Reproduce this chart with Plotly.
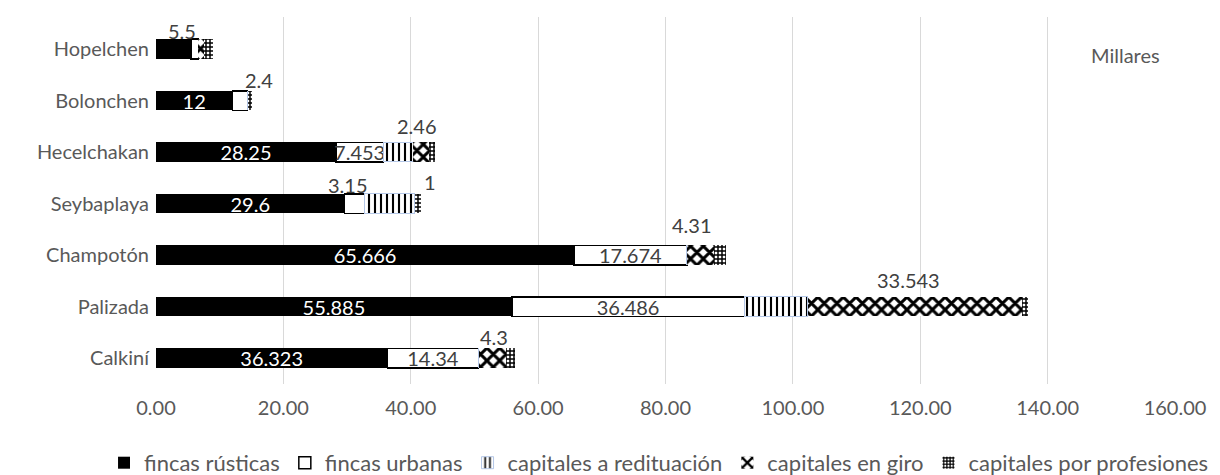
import plotly.graph_objects as go

# Municipalities, bottom to top
municipios = ["Calkiní", "Palizada", "Champotón", "Seybaplaya",
              "Hecelchakan", "Bolonchen", "Hopelchen"]

# Values per concept (thousands)
fincas_rusticas = [36.323, 55.885, 65.666, 29.6, 28.25, 12, 5.5]
fincas_urbanas = [14.34, 36.486, 17.674, 3.15, 7.453, 2.4, 1.15]
capitales_redituacion = [0, 10.0, 0, 7.9, 4.7, 0, 0]
capitales_giro = [4.3, 33.543, 4.31, 0, 2.46, 0, 0.95]
capitales_profesiones = [1.4, 1.0, 1.8, 1, 0.9, 0.7, 1.3]

# Which values get a label: "in" = inside the bar, "up" = above the bar
lab_rusticas = ["in", "in", "in", "in", "in", "in", "up"]
lab_urbanas = ["in", "in", "in", "up", "in", "up", ""]
lab_redituacion = ["", "", "", "", "", "", ""]
lab_giro = ["up", "up", "up", "", "up", "", ""]
lab_profesiones = ["", "", "", "up", "", "", ""]

x_ticks = [0, 20, 40, 60, 80, 100, 120, 140, 160]

FONT = "Lato, Carlito, Calibri, sans-serif"
TXT = "#595959"
LBL = "#404040"

# Small pixel nudges for the labels drawn above the bars (xshift, yshift)
nudge = {
    ("fincas rústicas", "Hopelchen"): (8, 18),
    ("fincas urbanas", "Bolonchen"): (19, 21),
    ("fincas urbanas", "Seybaplaya"): (-7, 19),
    ("capitales en giro", "Calkiní"): (2, 21),
    ("capitales en giro", "Palizada"): (-6, 27),
    ("capitales en giro", "Champotón"): (-9, 30),
    ("capitales en giro", "Hecelchakan"): (-4, 26),
    ("capitales por profesiones", "Seybaplaya"): (12, 22),
}

series = [
    dict(name="fincas rústicas", values=fincas_rusticas, labels=lab_rusticas,
         marker=dict(color="#000000", line=dict(width=0)), textcolor="#ffffff"),
    dict(name="fincas urbanas", values=fincas_urbanas, labels=lab_urbanas,
         marker=dict(color="#ffffff", line=dict(color="#000000", width=1.5)),
         textcolor=LBL),
    dict(name="capitales a redituación", values=capitales_redituacion,
         labels=lab_redituacion,
         marker=dict(color="#ffffff", line=dict(color="#b4c7e7", width=1),
                     pattern=dict(shape="|", fgcolor="#000000", bgcolor="#ffffff",
                                  size=6, solidity=0.35, fillmode="replace")),
         textcolor=LBL),
    dict(name="capitales en giro", values=capitales_giro, labels=lab_giro,
         marker=dict(color="#ffffff", line=dict(width=0),
                     pattern=dict(shape="x", fgcolor="#000000", bgcolor="#ffffff",
                                  size=9, solidity=0.55, fillmode="replace")),
         textcolor=LBL),
    dict(name="capitales por profesiones", values=capitales_profesiones,
         labels=lab_profesiones,
         marker=dict(color="#ffffff", line=dict(width=0),
                     pattern=dict(shape="+", fgcolor="#000000", bgcolor="#ffffff",
                                  size=4, solidity=0.6, fillmode="replace")),
         textcolor=LBL),
]

fig = go.Figure()
annotations = []
base = [0.0] * len(municipios)

for s in series:
    vals = s["values"]
    texts = [f"{v:g}" if lab == "in" else "" for v, lab in zip(vals, s["labels"])]
    fig.add_trace(go.Bar(
        name=s["name"], y=municipios, x=vals, orientation="h",
        marker=s["marker"], text=texts, textposition="inside",
        insidetextanchor="middle", constraintext="none", textangle=0,
        insidetextfont=dict(family=FONT, size=20, color=s["textcolor"]),
        hoverinfo="x+y+name",
    ))
    for i, (v, lab) in enumerate(zip(vals, s["labels"])):
        if lab == "up":
            dx, dy = nudge.get((s["name"], municipios[i]), (0, 22))
            annotations.append(dict(
                x=base[i] + v / 2, y=municipios[i], xref="x", yref="y",
                text=f"{v:g}", showarrow=False, xshift=dx, yshift=dy,
                xanchor="center", yanchor="middle",
                font=dict(family=FONT, size=20, color=LBL),
            ))
    base = [b + v for b, v in zip(base, vals)]

annotations.append(dict(
    x=0.951, y=0.896, xref="paper", yref="paper", text="Millares",
    xanchor="center", yanchor="middle",
    showarrow=False, font=dict(family=FONT, size=20, color=TXT),
))

fig.update_layout(
    barmode="stack",
    bargap=0.62,
    width=1220, height=475,
    margin=dict(l=156, r=45, t=17, b=91, autoexpand=False),
    paper_bgcolor="#ffffff", plot_bgcolor="#ffffff",
    font=dict(family=FONT, size=20, color=TXT),
    showlegend=True,
    legend=dict(orientation="h", xref="paper", yref="paper",
                x=-0.051, y=-0.215, xanchor="left", yanchor="middle",
                font=dict(family=FONT, size=22, color=TXT),
                traceorder="normal", itemwidth=30,
                bgcolor="rgba(0,0,0,0)"),
    annotations=annotations,
    xaxis=dict(range=[0, 160], tickvals=x_ticks, tickformat=".2f",
               showgrid=True, gridcolor="#d9d9d9", gridwidth=1,
               zeroline=False, showline=False, ticks="",
               ticklabelstandoff=10,
               tickfont=dict(family=FONT, size=20, color=TXT)),
    yaxis=dict(showgrid=False, zeroline=False, showline=False, ticks="",
               ticklabelstandoff=6,
               tickfont=dict(family=FONT, size=20, color=TXT)),
)

fig.write_html("out.html")
